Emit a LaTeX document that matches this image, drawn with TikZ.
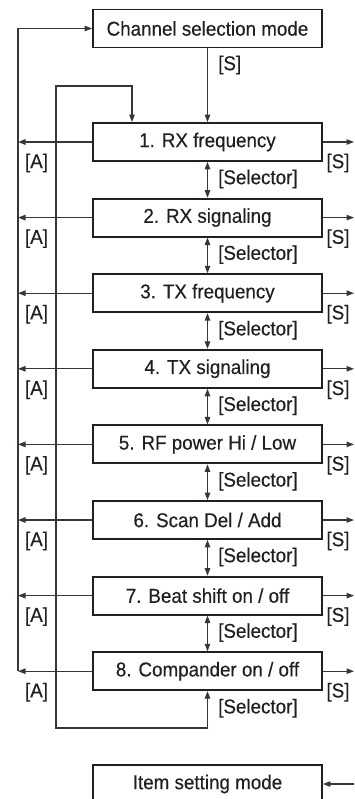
\documentclass[tikz,border=0pt]{standalone}
\usepackage{fontspec}
\setmainfont{Liberation Sans}[FakeStretch=0.94,FakeBold=0.35]
\usetikzlibrary{arrows.meta}
\definecolor{ink}{HTML}{231F20}
\definecolor{wirec}{HTML}{3A3637}
\begin{document}
\begin{tikzpicture}[x=1pt,y=-1pt,
  box/.style={draw=ink,line width=1.9pt,minimum width=229pt,minimum height=38pt,inner sep=0pt,text=ink,font=\fontsize{20}{24}\selectfont},
  lbl/.style={inner sep=0pt,text=ink,font=\fontsize{20}{24}\selectfont},
  wire/.style={draw=wirec,line width=1.2pt},
  arr/.style={wire,-{Triangle[length=7.5pt,width=5.5pt]}},
  darr/.style={wire,{Triangle[length=7.5pt,width=5.5pt]}-{Triangle[length=7.5pt,width=5.5pt]}}]
\useasboundingbox (0,0) rectangle (354,799);
\clip (0,0) rectangle (354,799);
\node[box] (ch) at (207.5,28.5) {Channel selection mode};
\coordinate (L0) at (18,28.5);
\foreach \i/\t in {1/{1. RX frequency},2/{2. RX signaling},3/{3. TX frequency},4/{4. TX signaling},5/{5. RF power Hi / Low},6/{6. Scan Del / Add},7/{7. Beat shift on / off},8/{8. Compander on / off}}{
  \pgfmathsetmacro{\yy}{142+75.6*(\i-1)}
  \node[box] (b\i) at (207.5,\yy) {\t};
  \coordinate (L\i) at (18,\yy);
  \coordinate (R\i) at (354,\yy);
  \draw[arr] (b\i.west) -- (L\i);
  \draw[arr] (b\i.east) -- (R\i);
  \node[lbl] (a\i) at (36.5,\yy+21) {[A]};
  \node[lbl] (s\i) at (338,\yy+21) {[S]};
  \node[lbl,anchor=west] (sel\i) at (218,\yy+37) {[Selector]};
}
\foreach \i/\j in {1/2,2/3,3/4,4/5,5/6,6/7,7/8}{
  \draw[darr] (b\i.south) -- (b\j.north);
}
\draw[arr] (ch.south) -- (b1.north);
\node[lbl,anchor=west] (s0) at (218,65) {[S]};
\draw[arr] (L8) -- (L0) -- (ch.west);
\coordinate (T1) at (132,86);
\coordinate (T2) at (56,86);
\coordinate (B1) at (56,728);
\coordinate (B2) at (207.5,728);
\draw[darr] (T1 |- b1.north) -- (T1) -- (T2) -- (B1) -- (B2) -- (b8.south);
\node[box] (item) at (207.5,784) {Item setting mode};
\coordinate (Rin) at (354,784);
\draw[arr] (Rin) -- (item.east);
\end{tikzpicture}
\end{document}
